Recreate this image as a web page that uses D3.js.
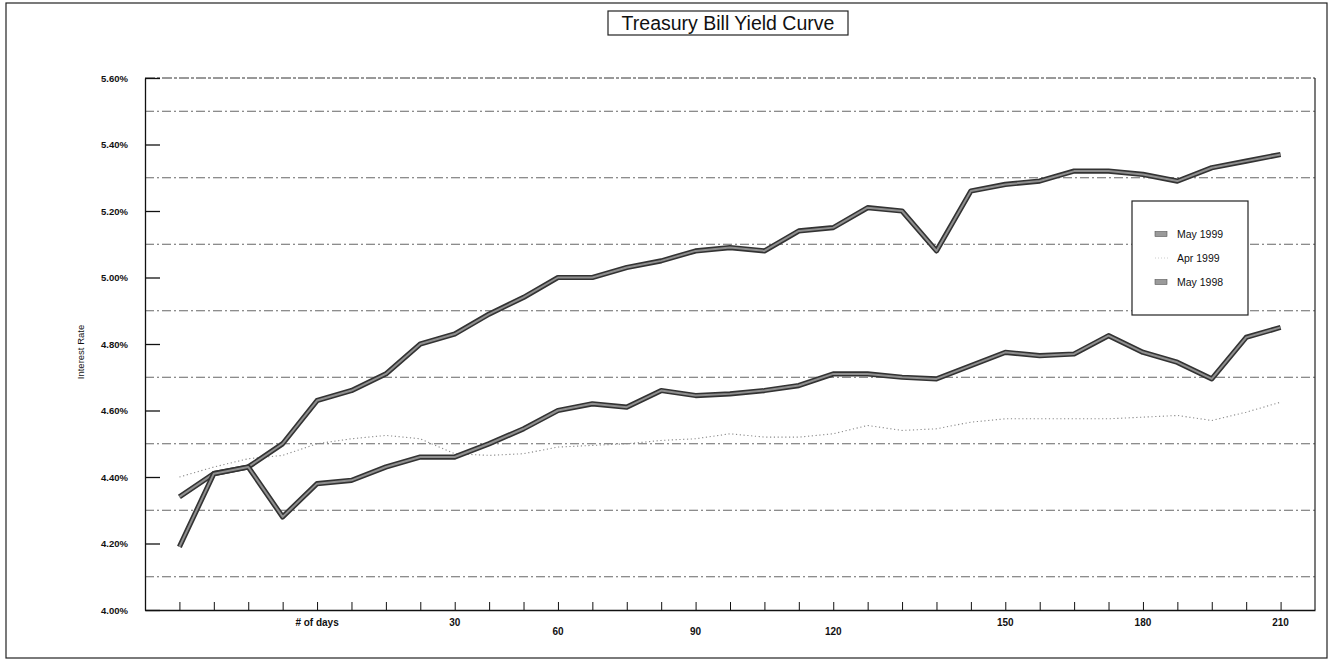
<!DOCTYPE html>
<html><head><meta charset="utf-8">
<script src="https://cdn.jsdelivr.net/npm/d3@7"></script>
<style>
body{margin:0;background:#fff}
svg text{font-family:"Liberation Sans",Arial,sans-serif;fill:#111}
</style>
</head><body>
<svg id="c" width="1331" height="663"></svg>
<script>
// ---- data ----
const categories = ["","","","","# of days","","","","30","","","60","","","","90","","","","120","","","","","150","","","","180","","","","210"];
const seriesNames = ["May 1999","Apr 1999","May 1998"];
const may1999 = [4.19,4.41,4.43,4.28,4.38,4.39,4.43,4.46,4.46,4.50,4.545,4.60,4.62,4.61,4.66,4.645,4.65,4.66,4.675,4.71,4.71,4.70,4.695,4.735,4.775,4.765,4.77,4.825,4.775,4.745,4.695,4.82,4.85];
const apr1999 = [4.40,4.43,4.455,4.465,4.50,4.515,4.525,4.515,4.47,4.465,4.47,4.49,4.495,4.50,4.51,4.515,4.53,4.52,4.52,4.53,4.555,4.54,4.545,4.565,4.575,4.575,4.575,4.575,4.58,4.585,4.57,4.595,4.625];
const may1998 = [4.34,4.41,4.43,4.50,4.63,4.66,4.71,4.80,4.83,4.89,4.94,5.00,5.00,5.03,5.05,5.08,5.09,5.08,5.14,5.15,5.21,5.20,5.08,5.26,5.28,5.29,5.32,5.32,5.31,5.29,5.33,5.35,5.37];
const yTicks = [4.0,4.2,4.4,4.6,4.8,5.0,5.2,5.4,5.6];
const yGrid = [4.1,4.3,4.5,4.7,4.9,5.1,5.3,5.5];
const staggeredLabels = ["60","90","120"];
const titleText = "Treasury Bill Yield Curve";
const yTitle = "Interest Rate";

// ---- layout ----
const svg = d3.select("#c");
const L = 145, R = 1315, T = 78, B = 610;
const x = d3.scaleLinear().domain([0, categories.length + 1]).range([L, R]);
const y = d3.scaleLinear().domain([4.0, 5.6]).range([B, T]);

svg.append("rect").attr("width",1331).attr("height",663).attr("fill","#fff");
// outer frame
svg.append("rect").attr("x",6).attr("y",3).attr("width",1321).attr("height",655)
  .attr("fill","none").attr("stroke","#222").attr("stroke-width",1.2);

// gridlines
svg.append("g").selectAll("line").data(yGrid).join("line")
  .attr("x1",L).attr("x2",R).attr("y1",d=>y(d)).attr("y2",d=>y(d))
  .attr("stroke","#555").attr("stroke-width",0.9).attr("stroke-dasharray","9,3,2,3");
// top frame of plot
svg.append("line").attr("x1",L).attr("x2",R).attr("y1",T).attr("y2",T)
  .attr("stroke","#333").attr("stroke-width",1).attr("stroke-dasharray","10,2,3,2");
// right frame
svg.append("line").attr("x1",R).attr("x2",R).attr("y1",T).attr("y2",B)
  .attr("stroke","#222").attr("stroke-width",1.2);

// y axis
const yAxis = d3.axisLeft(y).tickValues(yTicks).tickSizeInner(-15).tickSizeOuter(0)
  .tickPadding(17).tickFormat(d=>d3.format(".2f")(d)+"%");
const gy = svg.append("g").attr("transform",`translate(${L},0)`).call(yAxis);
gy.select(".domain").attr("stroke","#111").attr("stroke-width",1.3);
gy.selectAll(".tick line").attr("stroke","#111").attr("stroke-width",1.3);
gy.selectAll(".tick text").attr("font-size","9.5px").attr("font-weight","bold").attr("fill","#111")
  .attr("font-family","'Liberation Sans',Arial,sans-serif");

// x axis
const xAxis = d3.axisBottom(x).tickValues(d3.range(1, categories.length + 1))
  .tickSizeInner(-8).tickSizeOuter(0).tickFormat("");
const gx = svg.append("g").attr("transform",`translate(0,${B})`).call(xAxis);
gx.select(".domain").attr("stroke","#111").attr("stroke-width",1.3);
gx.selectAll(".tick line").attr("stroke","#111").attr("stroke-width",1);
svg.append("g").selectAll("text").data(categories.map((c,i)=>({c,i})).filter(d=>d.c!==""))
  .join("text")
  .attr("x",d=>x(d.i+1)).attr("y",d=>B + (staggeredLabels.includes(d.c) ? 25 : 16))
  .attr("text-anchor","middle").attr("font-size","10px").attr("font-weight","bold")
  .text(d=>d.c);

// y title
svg.append("text").attr("transform","translate(84,352) rotate(-90)")
  .attr("text-anchor","middle").attr("font-size","9.5px").attr("fill","#111").text(yTitle);

// lines
const line = d3.line().x((d,i)=>x(i+1)).y(d=>y(d));
svg.append("path").datum(apr1999).attr("d",line).attr("fill","none")
  .attr("stroke","#8a8a8a").attr("stroke-width",1.1).attr("stroke-dasharray","1.2,2.6");
[may1998, may1999].forEach(s=>{
  svg.append("path").datum(s).attr("d",line).attr("fill","none")
    .attr("stroke","#333").attr("stroke-width",5.2).attr("stroke-linejoin","round");
  svg.append("path").datum(s).attr("d",line).attr("fill","none")
    .attr("stroke","#8f8f8f").attr("stroke-width",2).attr("stroke-linejoin","round");
});

// title
svg.append("rect").attr("x",608).attr("y",11).attr("width",240).attr("height",24)
  .attr("fill","#fff").attr("stroke","#222").attr("stroke-width",1.2);
svg.append("text").attr("x",728).attr("y",30).attr("text-anchor","middle")
  .attr("font-size","19.5px").text(titleText);

// legend
const lg = svg.append("g");
lg.append("rect").attr("x",1132).attr("y",201).attr("width",116).attr("height",114)
  .attr("fill","#fff").attr("stroke","#222").attr("stroke-width",1.2);
const ly = [234,258,282];
seriesNames.forEach((n,i)=>{
  if(i===1){
    lg.append("line").attr("x1",1155).attr("x2",1168).attr("y1",ly[i]).attr("y2",ly[i])
      .attr("stroke","#ccc").attr("stroke-width",1).attr("stroke-dasharray","1,2");
  } else {
    lg.append("rect").attr("x",1155).attr("y",ly[i]-2.5).attr("width",12).attr("height",5)
      .attr("fill","#9a9a9a").attr("stroke","#555").attr("stroke-width",0.6);
  }
  lg.append("text").attr("x",1177).attr("y",ly[i]).attr("dy","0.35em")
    .attr("font-size","10.5px").text(n);
});
</script>
</body></html>
